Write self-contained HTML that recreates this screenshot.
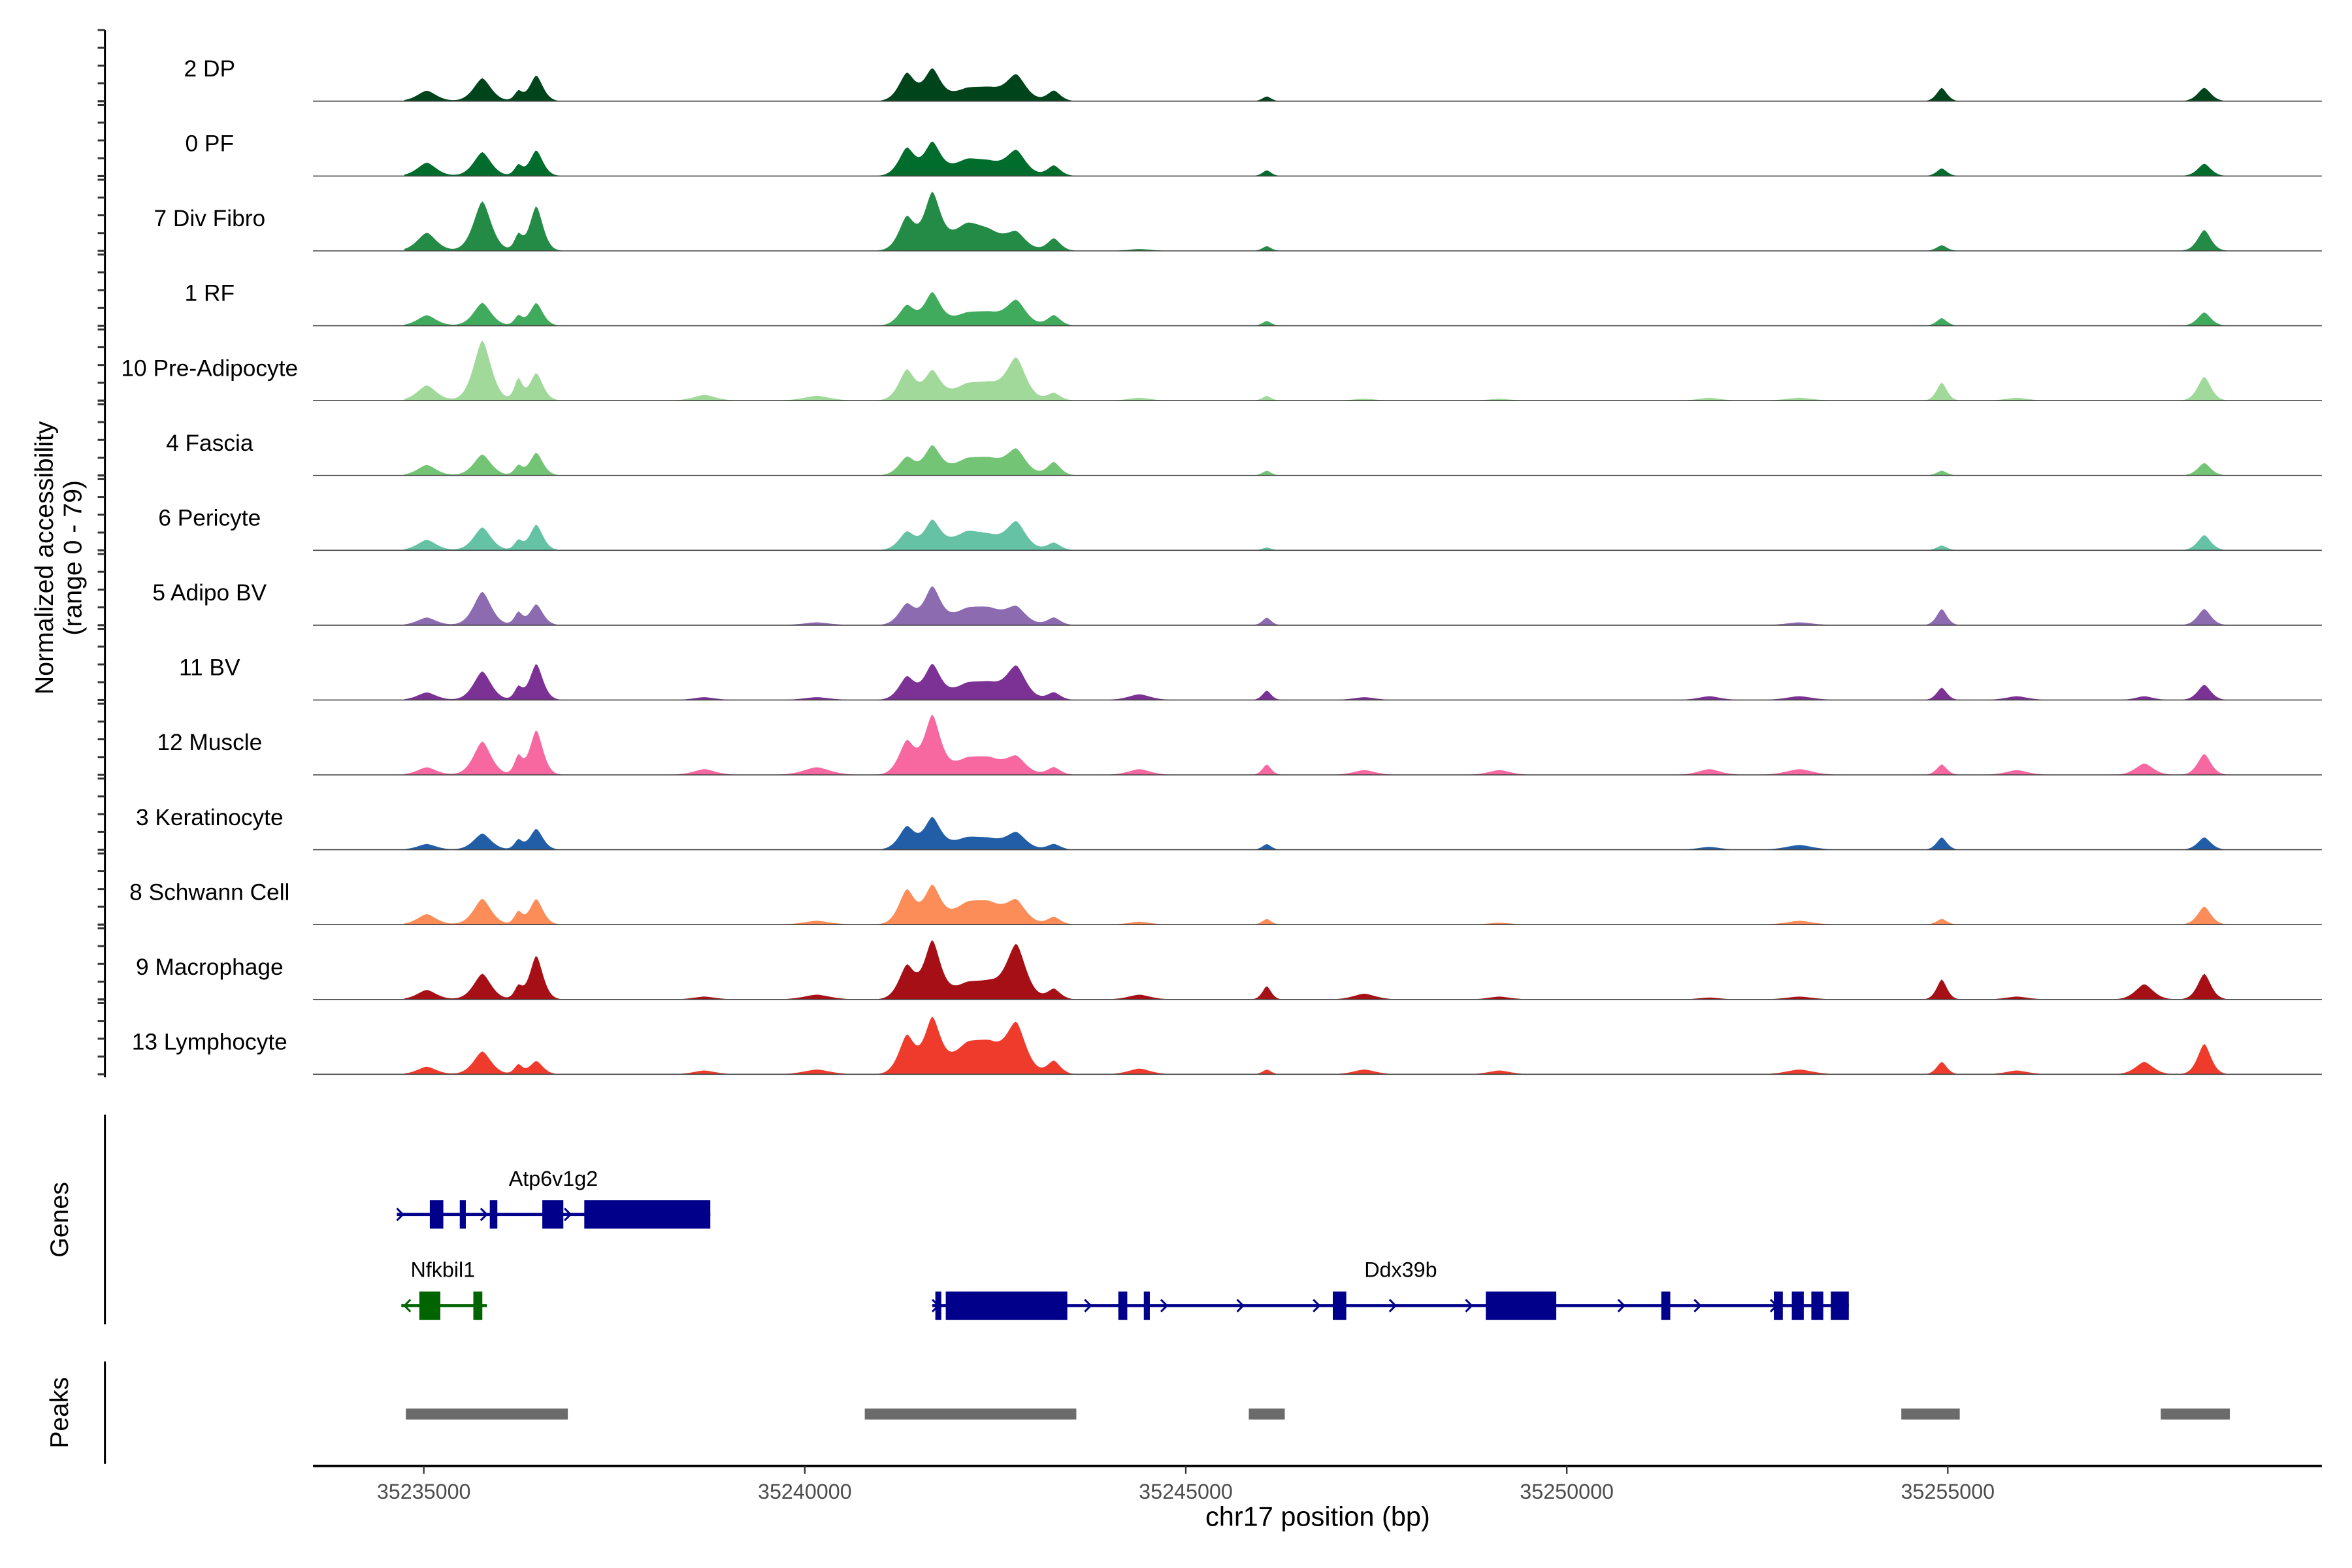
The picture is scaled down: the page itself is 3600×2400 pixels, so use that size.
<!DOCTYPE html>
<html><head><meta charset="utf-8"><style>
html,body{margin:0;padding:0;background:#fff;}
svg{display:block;font-family:"Liberation Sans",sans-serif;}
</style></head><body>
<svg id="chart" width="3600" height="2400" viewBox="0 0 1560 1040" xmlns="http://www.w3.org/2000/svg">
<g id="tracks"></g>
<g id="genes"></g>
<g id="peaks"></g>
<g id="axes"></g>
</svg>
<script>
const trackNames = ["2 DP","0 PF","7 Div Fibro","1 RF","10 Pre-Adipocyte","4 Fascia","6 Pericyte","5 Adipo BV","11 BV","12 Muscle","3 Keratinocyte","8 Schwann Cell","9 Macrophage","13 Lymphocyte"];
const trackColors = ["#00441b","#006d2c","#238b45","#41ab5d","#a1d99b","#74c476","#66c2a4","#8c6bb1","#7b3294","#f768a1","#225ea8","#fc8d59","#a50f15","#ef3b2c"];
const peakCenters = [35235039,35235768,35236240,35236476,35241339,35241673,35242126,35242421,35242776,35243268,35246063,35254921,35257579,35258366,35238681,35240157,35244390,35247342,35249114,35251870,35253052,35255906];
const peakWidths = [130,120,55,90,110,110,230,230,130,90,60,70,120,90,150,180,150,150,150,150,180,150];
const h_2DP = [11,24,10,27,29,32,10,10,25,11,5,14,0,14, 0,0,0,0,0,0,0,0];
const h_0PF = [14,25,11,27,29,33,14,10,24,11,6,8,0,13, 0,0,0,0,0,0,0,0];
const h_7DivFibro = [19,52,16,47,35,57,24,13,16,13,5,6,0,22, 0,0,2,0,0,0,0,0];
const h_1RF = [11,24,10,24,21,33,10,10,24,11,5,8,0,14, 0,0,0,0,0,0,0,0];
const h_10PreAdipocyte = [16,63,22,29,32,29,13,13,41,8,5,19,0,25, 6,5,3,2,2,3,3,3];
const h_4Fascia = [11,22,10,24,19,29,13,13,24,14,5,5,0,13, 0,0,0,0,0,0,0,0];
const h_6Pericyte = [11,24,10,27,19,29,16,10,27,8,3,5,0,16, 0,0,0,0,0,0,0,0];
const h_5AdipoBV = [8,35,13,22,22,38,13,13,16,8,8,17,0,17, 0,3,0,0,0,0,3,0];
const h_11BV = [8,30,13,38,24,35,13,13,32,8,10,13,4,16, 3,3,6,3,0,4,4,4];
const h_12Muscle = [8,35,19,47,35,60,13,13,16,8,11,11,12,22, 6,8,6,5,5,6,6,5];
const h_3Keratinocyte = [6,17,10,22,24,32,10,8,16,6,6,13,0,13, 0,0,0,0,0,3,5,0];
const h_8Schwann = [11,27,13,27,36,38,17,17,21,8,6,6,0,19, 0,4,3,0,2,0,4,0];
const h_9Macrophage = [10,27,13,46,35,59,13,13,54,11,14,21,16,27, 3,5,5,6,3,2,3,3];
const h_13Lymphocyte = [8,24,10,14,40,55,24,24,47,14,5,13,13,32, 4,5,6,5,4,0,5,4];
const trackHeights = [h_2DP,h_0PF,h_7DivFibro,h_1RF,h_10PreAdipocyte,h_4Fascia,h_6Pericyte,h_5AdipoBV,h_11BV,h_12Muscle,h_3Keratinocyte,h_8Schwann,h_9Macrophage,h_13Lymphocyte];
const dataStart = 35234744, dataEnd = 35258701;
const xTicks = [35235000,35240000,35245000,35250000,35255000];
const atpExons = [[35235079,35235256],[35235472,35235551],[35235866,35235965],[35236555,35236831],[35237106,35238760]];
const atpLine = [35234646,35238760];
const nfkExons = [[35234941,35235217],[35235650,35235768]];
const nfkLine = [35234705,35235827];
const ddxExons = [[35241713,35241791],[35241850,35243445],[35244114,35244232],[35244449,35244528],[35246929,35247106],[35248937,35249862],[35251240,35251358],[35252717,35252835],[35252953,35253110],[35253209,35253366],[35253465,35253701]];
const ddxLine = [35241673,35253701];
const peakRegions = [[35234764,35236890],[35240787,35243563],[35245827,35246299],[35254390,35255157],[35257795,35258701]];

const NS="http://www.w3.org/2000/svg";
const X0=207.6,X1=1540;
const x = bp => 281.1 + (bp-35235000)*0.05054;
const yScale = v => v*50/79;
function mk(tag,attrs,parent){const e=document.createElementNS(NS,tag);for(const k in attrs)e.setAttribute(k,attrs[k]);parent.appendChild(e);return e;}

const tg=document.getElementById('tracks');
trackNames.forEach((name,i)=>{
  const base = 67.1 + i*49.65;
  const g = mk('g',{},tg);
  
  
  const hs = trackHeights[i];
  let d = 'M'+x(dataStart)+','+base;
  for(let bp=dataStart; bp<=dataEnd; bp+=25){
    let v=0;
    for(let k=0;k<peakCenters.length;k++){const t=Math.abs(bp-peakCenters[k])/peakWidths[k];v+=hs[k]*Math.exp(-0.6*Math.pow(t,1.6));}
    d+=' L'+x(bp).toFixed(2)+','+(base-yScale(v)).toFixed(2);
  }
  d+=' L'+x(dataEnd)+','+base+' Z';
  const p=mk('path',{d:d,fill:trackColors[i]},g);
  
  
  const l=mk('line',{x1:X0,x2:X1,y1:base,y2:base,stroke:'#444','stroke-width':0.7},g);
  
  
  const t=mk('text',{x:139,y:base-16.4,'text-anchor':'middle','font-size':15.3,fill:'#000'},g);
  t.textContent=name;
  
  
});

const ax=document.getElementById('axes');
mk('line',{x1:69.6,x2:69.6,y1:19.9,y2:714.5,stroke:'#000','stroke-width':1.3},ax);
for(let i=0;i<14;i++){
  const top=19.9+i*49.65;
  for(let j=0;j<5;j++){const y=top+j*11.8;mk('line',{x1:64.8,x2:69.6,y1:y,y2:y,stroke:'#333','stroke-width':1.3},ax);}
  mk('line',{x1:64.8,x2:69.6,y1:top+47.2,y2:top+47.2,stroke:'#333','stroke-width':1.3},ax);
}
let yt=mk('text',{x:0,y:0,'text-anchor':'middle','font-size':17,transform:'translate(35,370) rotate(-90)'},ax);


yt.innerHTML='<tspan x="0" dy="0">Normalized accessibility</tspan><tspan x="0" dy="19">(range 0 - 79)</tspan>';
mk('line',{x1:69.6,x2:69.6,y1:739.3,y2:878.4,stroke:'#000','stroke-width':1.3},ax);
let gt=mk('text',{'text-anchor':'middle','font-size':17,transform:'translate(45,809) rotate(-90)'},ax);
gt.textContent='Genes';


mk('line',{x1:69.6,x2:69.6,y1:903,y2:971,stroke:'#000','stroke-width':1.3},ax);
let pt=mk('text',{'text-anchor':'middle','font-size':17,transform:'translate(45,937) rotate(-90)'},ax);
pt.textContent='Peaks';


mk('line',{x1:X0,x2:X1,y1:972.3,y2:972.3,stroke:'#000','stroke-width':1.6},ax);
xTicks.forEach(v=>{
  mk('line',{x1:x(v),x2:x(v),y1:972.3,y2:977.5,stroke:'#333','stroke-width':1},ax);
  const t=mk('text',{x:x(v),y:994,'text-anchor':'middle','font-size':14,fill:'#4d4d4d'},ax);
  t.textContent=v;
  
  
});
let xt=mk('text',{x:874,y:1012,'text-anchor':'middle','font-size':18},ax);
xt.textContent='chr17 position (bp)';



const gg=document.getElementById('genes');
function gene(name,line,exons,y,color,dir,labelX){
  const g=mk('g',{},gg);
  
  
  mk('line',{x1:x(line[0]),x2:x(line[1]),y1:y,y2:y,stroke:color,'stroke-width':2},g);
  exons.forEach(e=>mk('rect',{x:x(e[0]),y:y-9.4,width:Math.max(2,x(e[1])-x(e[0])),height:18.8,fill:color},g));
  const step=(line[1]-line[0])>5000?1000:1100;
  for(let bp=line[0]+60; bp<line[1]; bp+=step){
    const cx=x(bp);
    const d= dir>0?`M${cx-3},${y-4} L${cx+1},${y} L${cx-3},${y+4}`:`M${cx+3},${y-4} L${cx-1},${y} L${cx+3},${y+4}`;
    mk('path',{d:d,fill:'none',stroke:color,'stroke-width':1.3},g);
  }
  const t=mk('text',{x:labelX,y:y-19,'text-anchor':'middle','font-size':14},g);
  t.textContent=name;
  
  
}
gene('Atp6v1g2',atpLine,atpExons,805.5,'#00008b',1,x(35236700));
gene('Nfkbil1',nfkLine,nfkExons,866,'#006400',-1,x(35235250));
gene('Ddx39b',ddxLine,ddxExons,866,'#00008b',1,x(35247820));

const pg=document.getElementById('peaks');
peakRegions.forEach(r=>{
  const e=mk('rect',{x:x(r[0]),y:934.2,width:x(r[1])-x(r[0]),height:7.3,fill:'#6b6b6b'},pg);
  
  
});
</script>
</body></html>
